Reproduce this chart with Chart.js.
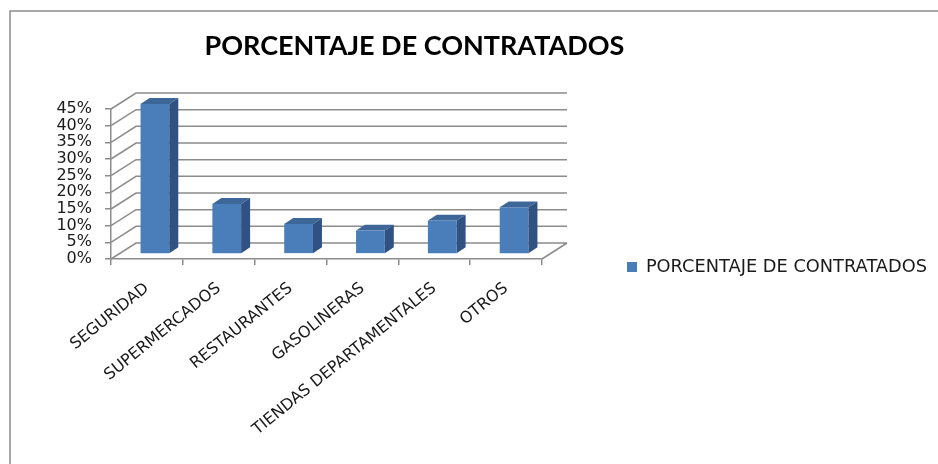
<!DOCTYPE html>
<html>
<head>
<meta charset="utf-8">
<script src="https://cdn.jsdelivr.net/npm/chart.js@4.4.1/dist/chart.umd.min.js"></script>
<style>
  body { margin: 0; background: #fff; }
  canvas { display: block; }
</style>
</head>
<body>
<canvas id="chart" width="938" height="464"></canvas>
<script>
// datos del grafico
const chartTitle = 'PORCENTAJE DE CONTRATADOS';
const seriesName = 'PORCENTAJE DE CONTRATADOS';
const categories = ['SEGURIDAD', 'SUPERMERCADOS', 'RESTAURANTES', 'GASOLINERAS', 'TIENDAS DEPARTAMENTALES', 'OTROS'];
const percentages = [45, 15, 9, 7, 10, 14];

const GRID = '#8c8c8c';
const DEPTH = { x: 25, y: -16 };   // profundidad de la caja 3D
const BAR_FRONT = 0.32;            // las barras van en el medio de la caja
const BAR_BACK = 0.68;

// caja 3D, barras con cara lateral y superior, marco y titulo
const fake3d = {
    id: 'fake3d',
    beforeDraw(chart) {
        const ctx = chart.ctx;
        ctx.save();
        ctx.fillStyle = '#fff';
        ctx.fillRect(0, 0, chart.width, chart.height);
        // marco de la imagen
        ctx.strokeStyle = '#8c8c8c';
        ctx.lineWidth = 1.5;
        ctx.beginPath();
        ctx.moveTo(10, chart.height);
        ctx.lineTo(10, 11);
        ctx.lineTo(chart.width, 11);
        ctx.stroke();
        // titulo
        ctx.fillStyle = '#000';
        ctx.font = 'bold 27px Lato';
        ctx.textAlign = 'center';
        ctx.textBaseline = 'alphabetic';
        ctx.fillText(chartTitle, 414.5, 55);
        ctx.restore();
    },
    beforeDatasetsDraw(chart) {
        const ctx = chart.ctx;
        const ys = chart.scales.y;
        const { left, right } = chart.chartArea;
        ctx.save();
        ctx.strokeStyle = GRID;
        ctx.lineWidth = 1.5;
        ctx.beginPath();
        ys.ticks.forEach(t => {
            const y = ys.getPixelForValue(t.value);
            ctx.moveTo(left, y);
            ctx.lineTo(left + DEPTH.x, y + DEPTH.y);
            ctx.lineTo(right + DEPTH.x, y + DEPTH.y);
        });
        const y0 = ys.getPixelForValue(0);
        ctx.moveTo(right, y0);
        ctx.lineTo(right + DEPTH.x, y0 + DEPTH.y);
        ctx.stroke();
        ctx.restore();

        // las barras se dibujan desplazadas hacia el fondo
        ctx.save();
        ctx.translate(DEPTH.x * BAR_FRONT, DEPTH.y * BAR_FRONT);
    },
    afterDatasetsDraw(chart) {
        const ctx = chart.ctx;
        const dx = DEPTH.x * (BAR_BACK - BAR_FRONT);
        const dy = DEPTH.y * (BAR_BACK - BAR_FRONT);
        chart.getDatasetMeta(0).data.forEach(bar => {
            const { x, y, base, width } = bar.getProps(['x', 'y', 'base', 'width'], true);
            const l = x - width / 2, r = x + width / 2;
            // cara superior
            ctx.fillStyle = '#3d6699';
            ctx.beginPath();
            ctx.moveTo(l, y);
            ctx.lineTo(l + dx, y + dy);
            ctx.lineTo(r + dx, y + dy);
            ctx.lineTo(r, y);
            ctx.closePath();
            ctx.fill();
            // cara lateral
            ctx.fillStyle = '#2f5282';
            ctx.beginPath();
            ctx.moveTo(r, y);
            ctx.lineTo(r + dx, y + dy);
            ctx.lineTo(r + dx, base + dy);
            ctx.lineTo(r, base);
            ctx.closePath();
            ctx.fill();
        });
        ctx.restore();
    }
};

new Chart(document.getElementById('chart'), {
    type: 'bar',
    data: {
        labels: categories,
        datasets: [{
            label: seriesName,
            data: percentages,
            backgroundColor: '#4a7ebb',
            borderWidth: 0,
            barPercentage: 0.4,
            categoryPercentage: 1
        }]
    },
    options: {
        responsive: false,
        animation: false,
        devicePixelRatio: 1,
        layout: { padding: { left: 0, top: 90, right: 1, bottom: 20 } },
        scales: {
            x: {
                grid: { drawOnChartArea: false, offset: true, tickLength: 6, color: GRID, lineWidth: 1.5 },
                border: { display: true, color: GRID, width: 1.5 },
                ticks: {
                    autoSkip: false, minRotation: 39, maxRotation: 39, padding: 14,
                    color: '#1a1a1a', font: { family: 'DejaVu Sans', size: 16 }
                },
                afterFit(scale) { scale.height = 185; }
            },
            // eje vacio arriba: solo deja sitio al titulo
            spacer: {
                type: 'linear', axis: 'x', position: 'top', display: true,
                grid: { display: false }, border: { display: false }, ticks: { display: false },
                afterFit(scale) { scale.height = 19; }
            },
            y: {
                min: 0, max: 45,
                grid: { drawOnChartArea: false, tickLength: 6, color: GRID, lineWidth: 1.5 },
                border: { display: true, color: GRID, width: 1.5 },
                ticks: {
                    stepSize: 5, autoSkip: false, padding: 13,
                    color: '#1a1a1a', font: { family: 'DejaVu Sans', size: 16 },
                    callback: v => v + '%'
                },
                afterFit(scale) { scale.width = 111; }
            }
        },
        plugins: {
            title: { display: false },
            tooltip: { enabled: false },
            legend: {
                position: 'right',
                maxWidth: 420,
                labels: {
                    boxWidth: 10, boxHeight: 10, padding: 85,
                    color: '#1a1a1a', font: { family: 'DejaVu Sans', size: 17.8 }
                }
            }
        }
    },
    plugins: [fake3d]
});
</script>
</body>
</html>
